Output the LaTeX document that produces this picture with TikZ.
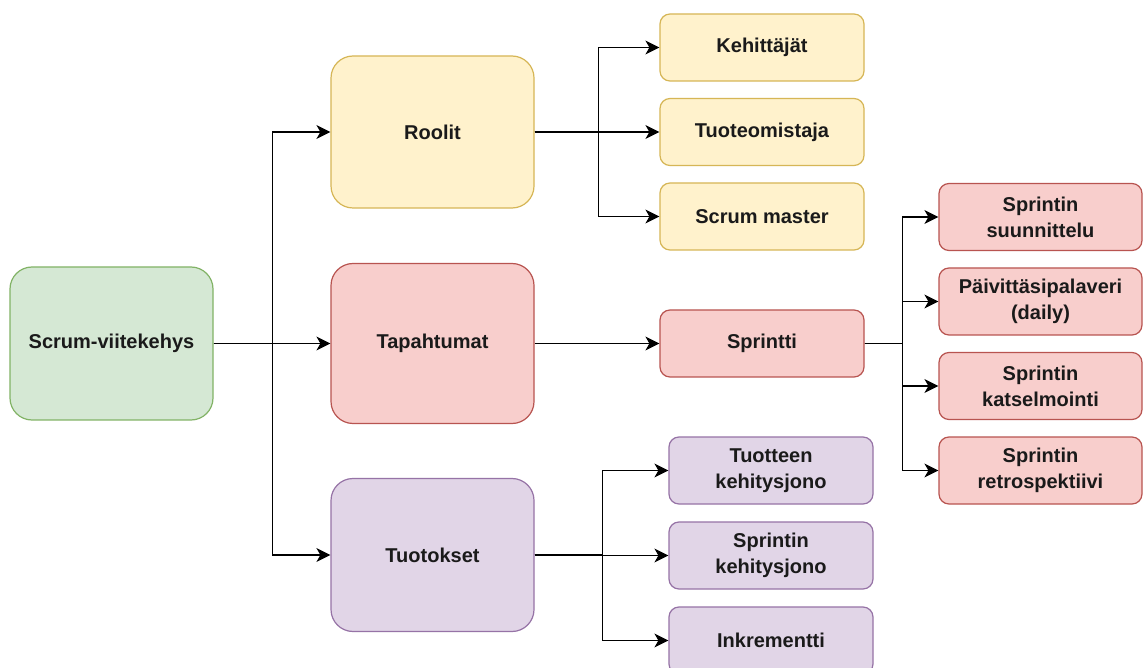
\documentclass[tikz,border=0pt]{standalone}
\usepackage{fontspec}
\setmainfont{Liberation Sans}
\usetikzlibrary{arrows.meta}
\definecolor{gfill}{HTML}{D5E8D4}\definecolor{gline}{HTML}{82B366}
\definecolor{yfill}{HTML}{FFF2CC}\definecolor{yline}{HTML}{D6B656}
\definecolor{rfill}{HTML}{F8CECC}\definecolor{rline}{HTML}{B85450}
\definecolor{pfill}{HTML}{E1D5E7}\definecolor{pline}{HTML}{9673A6}
\definecolor{txt}{HTML}{1A1A1A}
\tikzset{
  box/.style={draw, line width=1.2pt, rounded corners=10pt, align=center, inner sep=0pt,
    minimum width=204pt, minimum height=67pt, text=txt,
    font=\fontsize{20}{26}\selectfont\bfseries},
  bigbox/.style={box, rounded corners=22pt},
  green/.style={fill=gfill, draw=gline},
  yellow/.style={fill=yfill, draw=yline},
  red/.style={fill=rfill, draw=rline},
  purple/.style={fill=pfill, draw=pline},
  arr/.style={draw=black, line width=1.4pt, -{Stealth[length=14pt,width=14pt,inset=4pt]}}
}
\begin{document}
\begin{tikzpicture}[x=1pt,y=-1pt]
\useasboundingbox (0,0) rectangle (1144,668);
\clip (0,0) rectangle (1144,668);
\fill[white] (0,0) rectangle (1144,668);
% main nodes
\node[bigbox, green, minimum width=203pt, minimum height=153pt] (scrum) at (111.5,343.5) {Scrum-viitekehys};
\node[bigbox, yellow, minimum width=203pt, minimum height=152pt] (roolit) at (432.5,132) {Roolit};
\node[bigbox, red, minimum width=203pt, minimum height=160pt] (tapahtumat) at (432.5,343.5) {Tapahtumat};
\node[bigbox, purple, minimum width=203pt, minimum height=153pt] (tuotokset) at (432.5,555) {Tuotokset};
% roles
\node[box, yellow] (keh) at (762,47.5) {Kehittäjät};
\node[box, yellow] (tuote) at (762,132) {Tuoteomistaja};
\node[box, yellow] (sm) at (762,216.5) {Scrum master};
% events
\node[box, red] (sprintti) at (762,343.5) {Sprintti};
\node[box, red, minimum width=203pt] (ss) at (1040.5,217) {Sprintin\\suunnittelu};
\node[box, red, minimum width=203pt] (pp) at (1040.5,301.5) {Päivittäsipalaveri\\(daily)};
\node[box, red, minimum width=203pt] (skat) at (1040.5,386) {Sprintin\\katselmointi};
\node[box, red, minimum width=203pt] (sr) at (1040.5,470.5) {Sprintin\\retrospektiivi};
% artifacts
\node[box, purple] (tk) at (771,470.5) {Tuotteen\\kehitysjono};
\node[box, purple] (skj) at (771,555.5) {Sprintin\\kehitysjono};
\node[box, purple] (ink) at (771,640.5) {Inkrementti};
% connectors
\draw[arr] (scrum.east) -- ++(59,0) |- (roolit.west);
\draw[arr] (scrum.east) -- (tapahtumat.west);
\draw[arr] (scrum.east) -- ++(59,0) |- (tuotokset.west);
\draw[arr] (roolit.east) -- ++(64,0) |- (keh.west);
\draw[arr] (roolit.east) -- (tuote.west);
\draw[arr] (roolit.east) -- ++(64,0) |- (sm.west);
\draw[arr] (tapahtumat.east) -- (sprintti.west);
\draw[arr] (sprintti.east) -- ++(38,0) |- (ss.west);
\draw[arr] (sprintti.east) -- ++(38,0) |- (pp.west);
\draw[arr] (sprintti.east) -- ++(38,0) |- (skat.west);
\draw[arr] (sprintti.east) -- ++(38,0) |- (sr.west);
\draw[arr] (tuotokset.east) -- ++(68,0) |- (tk.west);
\draw[arr] (tuotokset.east) -- ++(68,0) |- (skj.west);
\draw[arr] (tuotokset.east) -- ++(68,0) |- (ink.west);
\end{tikzpicture}
\end{document}
